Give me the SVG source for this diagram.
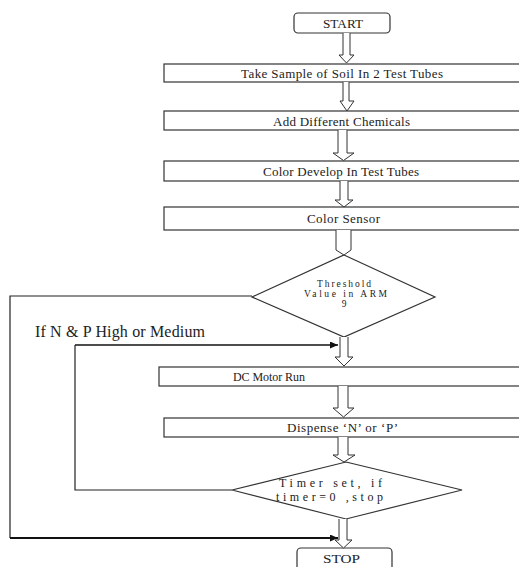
<svg xmlns="http://www.w3.org/2000/svg" width="519" height="567" viewBox="0 0 519 567" font-family="'Liberation Serif', 'DejaVu Serif', 'Times New Roman', serif">
<style>
.box{fill:#fff;stroke:#333;stroke-width:1.2}
.blk{fill:#fff;stroke:#333;stroke-width:1}
.ln{fill:none;stroke:#222;stroke-width:1.2}
.lnb{fill:none;stroke:#111;stroke-width:2}
.t{font-family:'Liberation Serif','DejaVu Serif',serif;fill:#222;font-size:13px}
.c{text-anchor:middle}
.s{font-size:9.5px}
.m{font-size:12px}
</style>
<defs>
<marker id="ah" markerWidth="8" markerHeight="7" refX="8" refY="3.5" orient="auto" markerUnits="userSpaceOnUse">
<path d="M0,0 L8,3.5 L0,7 Z" fill="#111"/>
</marker>
</defs>
<rect width="519" height="567" fill="#fff"/>

<g id="start">
<rect class="box" x="294" y="13" width="96" height="20" rx="4"/>
<text class="t c m" x="343" y="27.5" textLength="40" lengthAdjust="spacingAndGlyphs">START</text>
</g>
<g id="sample">
<rect class="box" x="164" y="64" width="360" height="18"/>
<text class="t c" x="342" y="77.5" textLength="202" lengthAdjust="spacing">Take Sample of Soil In 2 Test Tubes</text>
</g>
<g id="chemicals">
<rect class="box" x="164" y="111" width="360" height="19"/>
<text class="t c" x="341.5" y="125.5" textLength="137" lengthAdjust="spacing">Add Different Chemicals</text>
</g>
<g id="develop">
<rect class="box" x="164" y="161" width="360" height="20"/>
<text class="t c" x="341" y="175.5" textLength="156" lengthAdjust="spacing">Color Develop In Test Tubes</text>
</g>
<g id="sensor">
<rect class="box" x="164" y="207" width="360" height="23"/>
<text class="t c" x="343.5" y="222.5" textLength="73" lengthAdjust="spacing">Color Sensor</text>
</g>
<g id="threshold">
<polygon class="box" points="344,255 435,297 344,337 252,297"/>
<text class="t c s" x="344" y="287" textLength="54" lengthAdjust="spacing">Threshold</text>
<text class="t c s" x="345.5" y="297" textLength="83" lengthAdjust="spacing">Value in ARM</text>
<text class="t c s" x="344" y="307">9</text>
</g>
<g id="motor">
<rect class="box" x="159" y="367" width="365" height="19"/>
<text class="t m" x="233" y="380.5" textLength="72" lengthAdjust="spacing">DC Motor Run</text>
</g>
<g id="dispense">
<rect class="box" x="164" y="418" width="360" height="19"/>
<text class="t" x="287" y="431.5" textLength="111" lengthAdjust="spacing">Dispense ‘N’ or ‘P’</text>
</g>
<g id="timer">
<polygon class="box" points="346,462 462,490 346,519 232,490"/>
<text class="t c m" x="330.5" y="487" textLength="103" lengthAdjust="spacing">Timer set, if</text>
<text class="t c m" x="329.5" y="501" textLength="107" lengthAdjust="spacing">timer=0 ,stop</text>
</g>
<g id="stop">
<rect class="box" x="297" y="548" width="95" height="30" rx="4"/>
<text class="t c" x="341.5" y="563" textLength="37" lengthAdjust="spacingAndGlyphs">STOP</text>
</g>

<g id="connectors">
<path class="blk" d="M343,33 V55 H339 L346.5,63 L354,55 H350 V33"/>
<path class="blk" d="M343,82 V101 H340 L347,111 L354,101 H349 V82"/>
<path class="blk" d="M338,130 V153 H333 L343.5,160.5 L354,153 H347 V130"/>
<path class="blk" d="M340,181 V200 H335 L344,207 L353,200 H348 V181"/>
<path class="blk" d="M336,230 V250 L344,255 L351,250 V230"/>
<path class="blk" d="M340,337 V357 H335 L344,366 L353,357 H348 V337"/>
<path class="blk" d="M338,386 V408 H333 L343.5,417 L354,408 H348 V386"/>
<path class="blk" d="M338,437 V455 H333 L344,462 L355,455 H348 V437"/>
<path class="blk" d="M339,519 V540 H335 L343.5,548 L352,540 H347 V519"/>
<path class="ln" d="M252,296 H10 V538"/>
<path class="lnb" d="M10,538 H338" marker-end="url(#ah)"/>
<path class="ln" d="M232,490 H75 V345"/>
<path class="lnb" d="M75,345 H338" marker-end="url(#ah)" style="stroke-width:1.6"/>
<text class="t" x="35" y="337" style="font-size:16px" textLength="170" lengthAdjust="spacing">If N &amp; P High or Medium</text>
</g>
</svg>
